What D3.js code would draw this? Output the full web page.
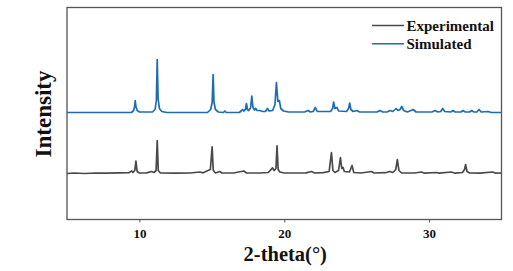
<!DOCTYPE html>
<html>
<head>
<meta charset="utf-8">
<script src="https://cdn.jsdelivr.net/npm/d3@7"></script>
<style>
  body { margin: 0; background: #fff; }
  text { font-family: "Liberation Serif", "Times New Roman", serif; font-weight: bold; }
</style>
</head>
<body>
<div id="xrd"></div>
<script>
// points: [2-theta, intensity above own baseline]
var simulated = [
  [5, 0], [9.45, 0], [9.6, 2], [9.67, 6], [9.71, 12], [9.76, 6], [9.85, 2], [10.0, 0.5], [10.9, 0.5],
  [11.08, 3], [11.17, 12], [11.23, 53], [11.29, 14], [11.38, 4], [11.55, 1], [11.9, 0],
  [14.7, 0], [14.92, 3], [15.02, 10], [15.09, 38], [15.15, 10], [15.25, 3], [15.45, 0.5], [15.8, 0],
  [15.9, 1.5], [16.0, 0], [16.9, 0], [17.05, 2], [17.12, 3], [17.2, 1.5], [17.32, 3], [17.39, 9],
  [17.46, 3], [17.55, 2], [17.68, 5], [17.76, 16.5], [17.84, 5], [17.95, 2.5], [18.03, 4], [18.12, 2],
  [18.31, 2], [18.5, 1], [18.7, 1], [18.84, 4], [18.95, 1.5], [19.2, 2], [19.36, 8], [19.46, 30],
  [19.56, 11], [19.66, 12], [19.76, 4], [19.95, 1.5], [20.3, 0.5], [21.4, 0.5], [21.64, 2], [21.8, 0.5],
  [22.0, 1], [22.15, 5], [22.28, 1], [23.2, 1], [23.34, 4], [23.41, 10.5], [23.5, 4], [23.64, 5],
  [23.75, 1.5], [24.3, 1], [24.44, 4], [24.52, 9.5], [24.6, 3], [24.75, 1], [25.02, 2], [25.2, 0.5],
  [26.4, 0.5], [26.6, 2], [26.8, 0.5], [27.1, 0.5], [27.3, 2], [27.5, 1], [27.72, 4], [27.85, 2],
  [28.0, 3], [28.11, 6], [28.25, 2], [28.5, 0.5], [28.91, 3], [29.1, 0.5], [30.2, 0.5], [30.41, 2],
  [30.6, 0.5], [30.8, 1], [30.94, 4], [31.08, 1], [31.5, 0.5], [31.66, 2], [31.8, 0.5], [32.2, 0.5],
  [32.34, 2], [32.5, 0.5], [32.8, 0.5], [32.94, 2], [33.1, 0.5], [33.3, 0.5], [33.45, 3], [33.6, 0.5],
  [34.07, 1], [34.3, 0], [35, 0]
];
var experimental = [
  [5, 0], [5.5, 0.5], [6.2, 0], [7, 0.5], [7.8, 0.3], [8.6, 0.6], [9.3, 0.8], [9.46, 2.7], [9.55, 1],
  [9.68, 3], [9.76, 12.3], [9.84, 2], [10.0, 0.5], [10.5, 0.6], [10.84, 2], [11.0, 1], [11.15, 3],
  [11.23, 33], [11.3, 3], [11.45, 0.5], [12.5, 0.3], [13.5, 0.5], [14.17, 1.5], [14.4, 0.7], [14.74, 3],
  [14.9, 4], [15.02, 26.6], [15.1, 3], [15.25, 0.5], [15.55, 2], [15.7, 0.5], [16.5, 0.5], [17.21, 2.5],
  [17.4, 0.5], [18.3, 0.5], [18.9, 1], [19.19, 5.6], [19.3, 3], [19.43, 5], [19.5, 27.6], [19.58, 4],
  [19.7, 1.5], [20.0, 0.5], [20.9, 0.5], [21.5, 0.6], [21.88, 2], [22.1, 0.5], [22.7, 0.8], [23.1, 2],
  [23.26, 21], [23.36, 3], [23.5, 1], [23.75, 3], [23.88, 16], [23.97, 5], [24.06, 6], [24.15, 2],
  [24.5, 1.5], [24.68, 8], [24.8, 1], [25.3, 0.5], [26.02, 2], [26.2, 0.5], [27.0, 0.8], [27.28, 2],
  [27.5, 1], [27.7, 4], [27.81, 14], [27.92, 3], [28.1, 0.5], [29.0, 0.5], [29.46, 1.5], [29.7, 0.3],
  [30.5, 1], [30.7, 0.3], [31.53, 1.5], [31.8, 0.3], [32.3, 1], [32.45, 4], [32.52, 9], [32.62, 2],
  [32.8, 0.5], [33.5, 0.3], [34.4, 1.5], [34.6, 0.3], [35, 0.5]
];
// vertical stacking offsets of the two patterns
var seriesNames = ["Experimental", "Simulated"];
var seriesOffsets = [46, 107];
var xTicks = [10, 20, 30];

var margin = { top: 7.5, right: 11.5, bottom: 51.5, left: 67 };
var width = 513 - margin.left - margin.right,
    height = 271 - margin.top - margin.bottom;

var svg = d3.select("#xrd")
    .append("svg")
    .attr("width", 513)
    .attr("height", 271)
    .append("g")
    .attr("transform", "translate(" + margin.left + "," + margin.top + ")");

var x = d3.scaleLinear().domain([5, 35]).range([0, width]);
var y = d3.scaleLinear().domain([0, 212]).range([height, 0]);

var color = d3.scaleOrdinal()
    .domain(seriesNames)
    .range(["#4a4a4a", "#1f6db0"]);

// X axis
var xAxis = svg.append("g")
    .attr("transform", "translate(0," + height + ")")
    .call(d3.axisBottom(x).tickValues(xTicks).tickSize(3).tickPadding(6).tickSizeOuter(0))
    .attr("font-family", null)
    .attr("font-size", null);
xAxis.select(".domain").remove();
xAxis.selectAll("line").attr("stroke", "#555");
xAxis.selectAll("text")
    .style("font-family", "'Liberation Serif', serif")
    .style("font-weight", "bold")
    .style("font-size", "13px")
    .attr("fill", "#111");

// frame
svg.append("rect")
    .attr("width", width)
    .attr("height", height)
    .attr("fill", "none")
    .attr("stroke", "#555")
    .attr("stroke-width", 1.3);

// lines
var data = [experimental, simulated];
data.forEach(function (pts, i) {
    var line = d3.line()
        .x(function (d) { return x(d[0]); })
        .y(function (d) { return y(d[1] + seriesOffsets[i]); });
    svg.append("path")
        .datum(pts)
        .attr("fill", "none")
        .attr("stroke", color(seriesNames[i]))
        .attr("stroke-width", 1.7)
        .attr("stroke-linejoin", "round")
        .attr("d", line);
});

// axis labels
svg.append("text")
    .attr("text-anchor", "middle")
    .attr("x", width / 2 + 1)
    .attr("y", height + 41)
    .style("font-size", "20.5px")
    .attr("fill", "#111")
    .text("2-theta(°)");

svg.append("text")
    .attr("text-anchor", "middle")
    .attr("transform", "translate(-16," + (114 - margin.top) + ") rotate(-90)")
    .style("font-size", "23px")
    .attr("fill", "#111")
    .text("Intensity");

// legend
var legend = svg.selectAll(".legend")
    .data(seriesNames)
    .enter().append("g")
    .attr("class", "legend")
    .attr("transform", function (d, i) { return "translate(0," + (18 + i * 18.3) + ")"; });

legend.append("line")
    .attr("x1", 305)
    .attr("x2", 337)
    .attr("stroke", function (d) { return color(d); })
    .attr("stroke-width", 1.5);

legend.append("text")
    .attr("x", 339.5)
    .attr("y", 5.5)
    .style("font-size", "15px")
    .attr("fill", "#111")
    .text(function (d) { return d; });
</script>
</body>
</html>
